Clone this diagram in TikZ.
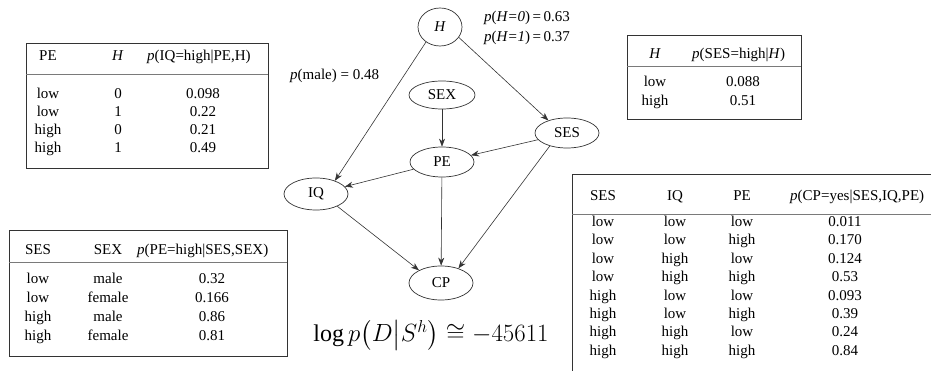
\documentclass[tikz,border=0pt]{standalone}
\usepackage{amsmath}
\usepackage{fontspec}
\setmainfont{Liberation Serif}
\usetikzlibrary{shapes.geometric,arrows.meta}
\definecolor{linec}{HTML}{333333}
\definecolor{rulec}{HTML}{7A7A7A}
\tikzset{
 cell/.style={inner sep=0pt,text height=10pt,text depth=3pt,font=\fontsize{15}{18}\selectfont},
 lcell/.style={cell,anchor=west},
 bn/.style={draw=linec,ellipse,line width=0.7pt,inner sep=0pt,minimum width=64pt,minimum height=30pt,font=\fontsize{15}{18}\selectfont},
 edge/.style={draw=linec,line width=0.6pt,-{Stealth[length=8pt,width=6pt,inset=2.5pt]}},
 box/.style={draw=linec,line width=0.8pt},
 hrule/.style={draw=rulec,line width=0.8pt},
 lbl/.style={inner sep=0pt,anchor=west,font=\fontsize{15}{18}\selectfont},
}
\begin{document}
\begin{tikzpicture}[x=1pt,y=-1pt]
\useasboundingbox (0,0) rectangle (931,371);

% ---------- Table 1: p(IQ=high|PE,H)
\draw[box] (26,43) rectangle (268,168);
\draw[hrule] (26,74) -- (268,74);
\node[cell] (t1a) at (48,57) {PE};
\node[cell] (t1b) at (118,57) {\textit{H}};
\node[lcell] (t1c) at (147,57) {\textit{p}(IQ=high|PE,H)};
\foreach \a/\b/\c [count=\i] in {low/0/0.098, low/1/0.22, high/0/0.21, high/1/0.49} {
  \node[cell] (t1r\i a) at (48,{77+18*\i}) {\a};
  \node[cell] (t1r\i b) at (118,{77+18*\i}) {\b};
  \node[cell] (t1r\i c) at (203,{77+18*\i}) {\c};
}

% ---------- Table 2: p(PE=high|SES,SEX)
\draw[box] (9,230) rectangle (287,356);
\draw[hrule] (9,262) -- (287,262);
\node[cell] (t2a) at (38,251) {SES};
\node[cell] (t2b) at (108,251) {SEX};
\node[lcell] (t2c) at (137,251) {\textit{p}(PE=high|SES,SEX)};
\foreach \a/\b/\c [count=\i] in {low/male/0.32, low/female/0.166, high/male/0.86, high/female/0.81} {
  \node[cell] (t2r\i a) at (38,{261+19*\i}) {\a};
  \node[cell] (t2r\i b) at (108,{261+19*\i}) {\b};
  \node[cell] (t2r\i c) at (212,{261+19*\i}) {\c};
}

% ---------- Table 3: p(SES=high|H)
\draw[box] (627,35) rectangle (801,119);
\draw[hrule] (627,66) -- (801,66);
\node[cell] (t3a) at (655,55) {\textit{H}};
\node[lcell] (t3b) at (692,55) {\textit{p}(SES=high|\textit{H})};
\foreach \a/\c [count=\i] in {low/0.088, high/0.51} {
  \node[cell] (t3r\i a) at (655,{64+19*\i}) {\a};
  \node[cell] (t3r\i c) at (743,{64+19*\i}) {\c};
}

% ---------- Table 4: p(CP=yes|SES,IQ,PE)
\draw[box] (572,371) -- (572,174) -- (931,174);
\draw[hrule] (572,214) -- (931,214);
\node[cell] (t4a) at (603,197) {SES};
\node[cell] (t4b) at (675,197) {IQ};
\node[cell] (t4c) at (742,197) {PE};
\node[lcell] (t4d) at (790,197) {\textit{p}(CP=yes|SES,IQ,PE)};
\foreach \a/\b/\c/\d [count=\i] in {low/low/low/0.011, low/low/high/0.170, low/high/low/0.124, low/high/high/0.53, high/low/low/0.093, high/low/high/0.39, high/high/low/0.24, high/high/high/0.84} {
  \node[cell] (t4r\i a) at (603,{204.6+18.4*\i}) {\a};
  \node[cell] (t4r\i b) at (675,{204.6+18.4*\i}) {\b};
  \node[cell] (t4r\i c) at (742,{204.6+18.4*\i}) {\c};
  \node[cell] (t4r\i d) at (845,{204.6+18.4*\i}) {\d};
}

% ---------- Network
\node[bn,minimum width=44pt,minimum height=38pt] (H) at (440,27) {\textit{H}};
\node[bn,minimum width=66pt,minimum height=28pt] (SEX) at (442,95) {SEX};
\node[bn] (SES) at (567,133) {SES};
\node[bn] (PE) at (442,162) {PE};
\node[bn,minimum height=32pt] (IQ) at (316,194) {IQ};
\node[bn,minimum height=34pt] (CP) at (441,283) {CP};

\draw[edge] (H.227) -- (IQ.35);
\draw[edge] (H.331) -- (SES.146);
\draw[edge] (SEX) -- (PE);
\draw[edge] (SES) -- (PE);
\draw[edge] (PE) -- (IQ);
\draw[edge] (PE) -- (CP);
\draw[edge] (SES.217) -- (CP.40);
\draw[edge] (IQ.-30) -- (CP.150);

% ---------- labels
\node[lbl] (pH0) at (484,18) {\textit{p}(\textit{H=0})\,=\,0.63};
\node[lbl] (pH1) at (484,38) {\textit{p}(\textit{H=1})\,=\,0.37};
\node[lbl] (pm) at (290,76) {\textit{p}(male) = 0.48};
\node[inner sep=0pt] (lg) at (431,335) {\fontsize{24}{28}\selectfont $\log p\bigl(D\big|S^{h}\bigr)\cong-45611$};
\end{tikzpicture}
\end{document}
